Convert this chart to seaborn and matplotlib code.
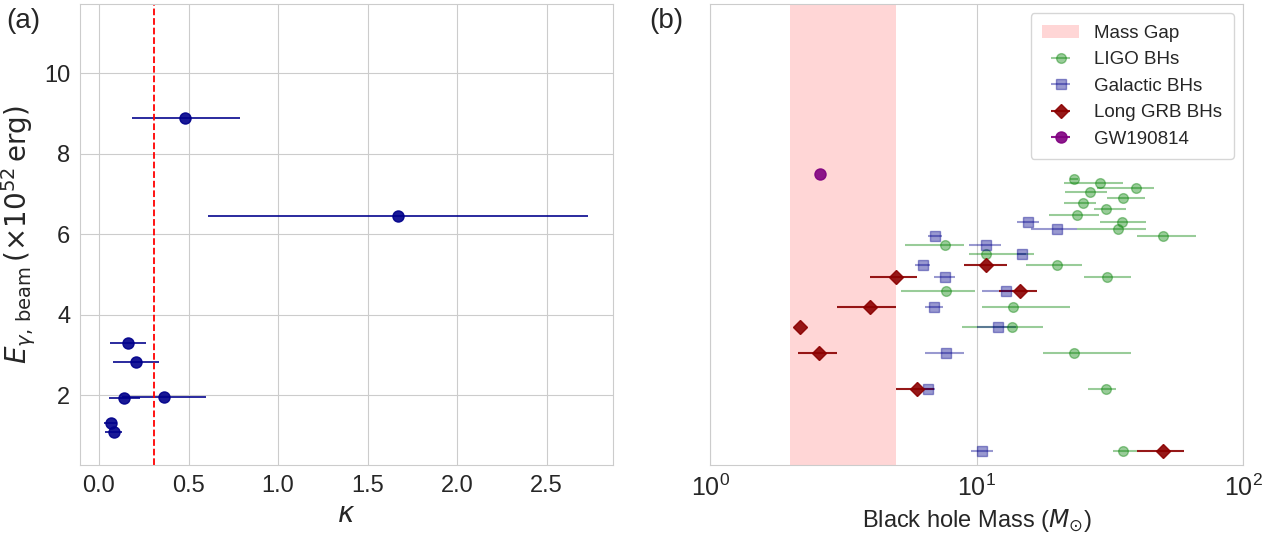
import numpy as np
import matplotlib
matplotlib.use("Agg")
import matplotlib.pyplot as plt
import seaborn as sns

# ---- panel (a): E_gamma,beam vs kappa
kappa = [0.48, 1.67, 0.16, 0.205, 0.14, 0.365, 0.067, 0.082]
kappa_lo = [0.184, 0.61, 0.061, 0.08, 0.056, 0.13, 0.03, 0.035]
kappa_hi = [0.788, 2.73, 0.26, 0.333, 0.229, 0.60, 0.10, 0.13]
e_beam = [8.9, 6.45, 3.29, 2.81, 1.93, 1.96, 1.30, 1.09]
kappa_crit = 0.31

# ---- panel (b): black hole masses, row index on a log y axis
ligo_row = [1, 2, 3, 4, 5, 6, 7, 8, 9, 10, 11, 12, 13, 14, 15, 16, 17, 18, 19, 20, 21]
ligo_m = [35.6, 30.6, 23.2, 13.6, 13.7, 7.69, 30.8, 20.0, 10.9, 7.6, 50.2,
          34.0, 35.1, 23.8, 30.6, 25.2, 35.5, 26.7, 39.6, 29.1, 23.2]
ligo_lo = [32.6, 26.3, 17.8, 8.8, 10.5, 5.2, 25.3, 15.4, 9.35, 5.4, 40.1,
           23.9, 29.1, 18.7, 27.6, 21.3, 30.8, 21.5, 28.4, 21.3, 22.4]
ligo_hi = [39.9, 33.5, 38.1, 17.7, 22.5, 9.87, 38.1, 24.9, 16.5, 9.0, 66.5,
           43.1, 43.3, 28.9, 36.4, 28.0, 42.9, 31.0, 46.2, 35.6, 24.0]

gal_row = [1, 2, 3, 4, 5, 6, 7, 8, 9, 10, 11, 12, 13]
gal_m = [10.5, 6.6, 7.69, 12.0, 6.95, 12.9, 7.6, 6.3, 14.8, 10.9, 7.0, 20.0, 15.6]
gal_lo = [9.5, 6.2, 6.43, 10.0, 6.4, 10.5, 6.9, 5.9, 14.2, 9.37, 6.6, 16.0, 14.2]
gal_hi = [11.5, 7.0, 8.98, 14.1, 7.5, 14.0, 8.3, 6.7, 15.4, 12.4, 7.4, 23.9, 17.1]

grb_row = [1, 2, 3, 4, 5, 6, 7, 8]
grb_m = [50.2, 6.0, 2.57, 2.18, 4.0, 14.5, 5.0, 10.9]
grb_lo = [39.9, 5.0, 2.14, 2.18, 3.0, 12.1, 4.0, 9.0]
grb_hi = [60.1, 6.9, 2.99, 2.18, 5.0, 16.9, 6.0, 13.0]

gw_row = [22]
gw_m = [2.59]

gap = (2.0, 5.0)


def err(v, lo, hi):
    v, lo, hi = np.array(v), np.array(lo), np.array(hi)
    return np.vstack([v - lo, hi - v])


sns.set_style("whitegrid")
plt.rcParams["font.family"] = ["Liberation Sans", "DejaVu Sans"]
plt.rcParams["mathtext.fontset"] = "dejavusans"

fig = plt.figure(figsize=(12.78, 5.38), dpi=100)
ax1 = fig.add_axes([0.0626, 0.1357, 0.417, 0.857])
ax2 = fig.add_axes([0.5556, 0.1357, 0.417, 0.857])

# (a)
ax1.errorbar(kappa, e_beam, xerr=err(kappa, kappa_lo, kappa_hi), fmt="o",
             color="darkblue", ms=8, elinewidth=1.3, alpha=0.9)
ax1.axvline(kappa_crit, color="red", ls="--", lw=1.3)
ax1.set_xlim(-0.106, 2.87)
ax1.set_ylim(0.26, 11.73)
ax1.set_xticks([0.0, 0.5, 1.0, 1.5, 2.0, 2.5])
ax1.set_yticks([2, 4, 6, 8, 10])
ax1.tick_params(labelsize=17)
ax1.set_xlabel(r"$\kappa$", fontsize=20)
ax1.set_ylabel(r"$E_{\gamma,\,\mathrm{beam}}\,(\times10^{52}\,\mathrm{erg})$", fontsize=20)

# (b)
ax2.axvspan(*gap, color="#ffd6d6", lw=0, label="Mass Gap")
ax2.errorbar(ligo_m, ligo_row, xerr=err(ligo_m, ligo_lo, ligo_hi), fmt="o",
             color="green", alpha=0.4, ms=7, elinewidth=1.5, label="LIGO BHs")
ax2.errorbar(gal_m, gal_row, xerr=err(gal_m, gal_lo, gal_hi), fmt="s",
             color="darkblue", alpha=0.4, ms=7, elinewidth=1.5, label="Galactic BHs")
ax2.errorbar(grb_m, grb_row, xerr=err(grb_m, grb_lo, grb_hi), fmt="D",
             color="darkred", alpha=0.9, ms=7, elinewidth=1.5, label="Long GRB BHs")
ax2.errorbar(gw_m, gw_row, xerr=0.0, fmt="o", color="purple", alpha=0.9, ms=8,
             elinewidth=1.5, label="GW190814")
ax2.set_xscale("log")
ax2.set_yscale("log")
ax2.set_xlim(1, 100)
ax2.set_ylim(0.855, 148)
ax2.set_yticks([])
ax2.set_yticks([], minor=True)
ax2.grid(False, axis="y", which="both")
ax2.grid(True, axis="x", which="major")
ax2.tick_params(axis="x", labelsize=18)
ax2.set_xlabel(r"Black hole Mass ($M_{\odot}$)", fontsize=17)
ax2.legend(loc="upper right", fontsize=13.5, frameon=True, borderpad=0.6,
           labelspacing=0.5, handlelength=2.0, handletextpad=0.8)

fig.text(0.005, 0.985, "(a)", fontsize=20, va="top")
fig.text(0.508, 0.985, "(b)", fontsize=20, va="top")

fig.savefig("out.png", dpi=100)
